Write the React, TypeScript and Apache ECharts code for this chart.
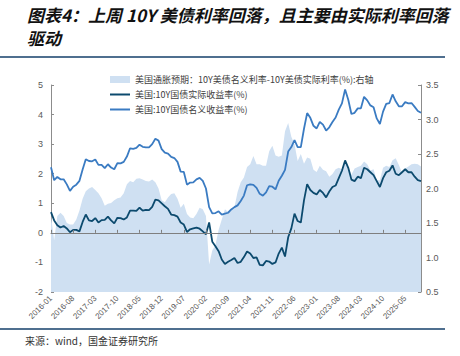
import React, { useEffect, useRef } from "react";
import * as echarts from "echarts";

// Monthly categories 2016-01 .. 2025-10
const categories: string[] = [];
for (let y = 2016; y <= 2025; y++) {
  for (let m = 1; m <= 12; m++) {
    if (y === 2025 && m > 10) break;
    categories.push(`${y}-${m < 10 ? "0" + m : m}`);
  }
}

// 美国:10Y国债名义收益率(%)
const nominal: number[] = [
  2.22, 1.78, 1.89, 1.81, 1.81, 1.64, 1.42, 1.56, 1.63, 1.76, 2.14, 2.49,
  2.43, 2.42, 2.48, 2.30, 2.30, 2.19, 2.32, 2.21, 2.15, 2.36, 2.35, 2.40,
  2.58, 2.86, 2.84, 2.87, 2.98, 2.91, 2.89, 2.89, 3.00, 3.18, 3.12, 2.83,
  2.71, 2.68, 2.57, 2.53, 2.40, 2.07, 2.06, 1.63, 1.70, 1.71, 1.81, 1.86,
  1.76, 1.50, 0.87, 0.66, 0.67, 0.73, 0.62, 0.65, 0.68, 0.79, 0.87, 0.93,
  1.08, 1.26, 1.61, 1.64, 1.62, 1.52, 1.32, 1.26, 1.37, 1.58, 1.56, 1.47,
  1.76, 1.93, 2.13, 2.75, 2.90, 3.14, 2.90, 2.90, 3.52, 4.05, 3.89, 3.62,
  3.53, 3.75, 3.66, 3.46, 3.57, 3.75, 3.90, 4.17, 4.38, 4.85, 4.50, 4.02,
  4.06, 4.21, 4.21, 4.60, 4.48, 4.31, 4.25, 3.87, 3.68, 4.10, 4.36, 4.39,
  4.68, 4.45, 4.28, 4.28, 4.42, 4.38, 4.39, 4.26, 4.12, 4.06,
];

// 美国:10Y国债实际收益率(%)
const real: number[] = [
  0.70, 0.42, 0.26, 0.18, 0.23, 0.15, 0.02, 0.10, 0.10, 0.05, 0.37, 0.62,
  0.42, 0.40, 0.50, 0.35, 0.43, 0.44, 0.55, 0.42, 0.32, 0.51, 0.50, 0.45,
  0.52, 0.75, 0.75, 0.74, 0.85, 0.75, 0.78, 0.77, 0.88, 1.12, 1.10, 1.00,
  0.90, 0.81, 0.62, 0.60, 0.55, 0.35, 0.28, 0.03, 0.12, 0.15, 0.18, 0.14,
  0.05, -0.05, 0.35, -0.30, -0.45, -0.62, -0.90, -1.05, -0.98, -0.92, -0.85, -1.02,
  -0.98, -0.82, -0.63, -0.70, -0.85, -0.83, -1.08, -1.10, -0.95, -0.97, -1.05, -1.00,
  -0.70, -0.50, -0.80, -0.15, 0.15, 0.65, 0.40, 0.35, 1.10, 1.65, 1.45, 1.35,
  1.30, 1.45, 1.35, 1.20, 1.40, 1.55, 1.60, 1.85, 2.10, 2.45, 2.20, 1.80,
  1.75, 1.90, 1.85, 2.20, 2.15, 2.05, 1.95, 1.75, 1.55, 1.85, 2.05, 2.10,
  2.28, 2.00, 1.95, 2.05, 2.15, 2.05, 2.05, 1.90, 1.78, 1.75,
];

// 美国通胀预期：10Y美债名义利率-10Y美债实际利率(%)：右轴
const breakeven: number[] = [
  1.60, 1.25, 1.60, 1.65, 1.60, 1.50, 1.48, 1.48, 1.55, 1.68, 1.85, 1.96,
  2.00, 2.02, 1.98, 1.93, 1.86, 1.75, 1.78, 1.79, 1.83, 1.86, 1.87, 1.93,
  2.06, 2.11, 2.09, 2.14, 2.15, 2.13, 2.11, 2.10, 2.13, 2.09, 2.00, 1.83,
  1.80, 1.87, 1.92, 1.93, 1.85, 1.72, 1.78, 1.63, 1.58, 1.57, 1.63, 1.72,
  1.70, 1.60, 0.90, 1.10, 1.18, 1.40, 1.55, 1.70, 1.66, 1.71, 1.73, 1.95,
  2.09, 2.16, 2.31, 2.35, 2.47, 2.35, 2.35, 2.33, 2.33, 2.54, 2.62, 2.48,
  2.46, 2.48, 2.83, 2.95, 2.75, 2.64, 2.40, 2.50, 2.36, 2.45, 2.43, 2.27,
  2.24, 2.33, 2.27, 2.25, 2.17, 2.21, 2.28, 2.30, 2.28, 2.40, 2.30, 2.20,
  2.29, 2.31, 2.33, 2.39, 2.35, 2.26, 2.28, 2.12, 2.12, 2.30, 2.33, 2.31,
  2.41, 2.44, 2.34, 2.23, 2.29, 2.32, 2.35, 2.36, 2.35, 2.32,
];

const nameBE = "美国通胀预期：10Y美债名义利率-10Y美债实际利率(%):右轴";
const nameReal = "美国:10Y国债实际收益率(%)";
const nameNom = "美国:10Y国债名义收益率(%)";

const titleLine1 = "图表4：上周 10Y 美债利率回落，且主要由实际利率回落";
const titleLine2 = "驱动";
const sourceText = "来源：wind，国金证券研究所";

export default function App() {
  const ref = useRef<HTMLDivElement>(null);
  useEffect(() => {
    if (!ref.current) return;
    const chart = echarts.init(ref.current, undefined, { renderer: "svg" });
    const axisColor = "#8c8c8c";
    const labelColor = "#595959";
    const font = "Liberation Sans, Arial, sans-serif";
    chart.setOption({
      animation: false,
      backgroundColor: "#ffffff",
      grid: { left: 51, right: 39, top: 85, bottom: 64, containLabel: false },
      legend: {
        orient: "vertical",
        left: 104,
        top: 70,
        itemWidth: 20,
        itemHeight: 7,
        itemGap: 6,
        textStyle: { fontSize: 9, color: "#404040", fontFamily: "Noto Sans CJK SC" },
        data: [
          { name: nameBE, icon: "rect" },
          { name: nameReal, itemStyle: { opacity: 0 } },
          { name: nameNom, itemStyle: { opacity: 0 } },
        ],
      },
      xAxis: [
        {
          type: "category",
          data: categories,
          boundaryGap: false,
          position: "bottom",
          axisLine: { show: false, onZero: false },
          axisTick: { show: false },
          axisLabel: {
            interval: 6,
            rotate: 45,
            fontSize: 8,
            color: labelColor,
            fontFamily: font,
            margin: 5,
          },
          splitLine: { show: false },
        },
        {
          type: "category",
          data: categories,
          boundaryGap: false,
          position: "top",
          axisLine: {
            show: true,
            onZero: true,
            onZeroAxisIndex: 0,
            lineStyle: { color: "#7f7f7f", width: 1 },
          },
          axisTick: {
            show: true,
            interval: 6,
            inside: false,
            length: 3,
            lineStyle: { color: "#7f7f7f" },
          },
          axisLabel: { show: false },
          splitLine: { show: false },
          z: 10,
        },
      ],
      yAxis: [
        {
          type: "value",
          min: -2,
          max: 5,
          interval: 1,
          position: "left",
          axisLine: { show: true, lineStyle: { color: axisColor } },
          axisTick: { show: true, inside: true, length: 3, lineStyle: { color: axisColor } },
          axisLabel: { fontSize: 9, color: labelColor, fontFamily: font, margin: 8 },
          splitLine: { show: false },
        },
        {
          type: "value",
          min: 0.5,
          max: 3.5,
          interval: 0.5,
          position: "right",
          axisLine: { show: true, lineStyle: { color: axisColor } },
          axisTick: { show: true, inside: true, length: 3, lineStyle: { color: axisColor } },
          axisLabel: {
            fontSize: 9,
            color: labelColor,
            fontFamily: font,
            margin: 5,
            formatter: (v: number) => v.toFixed(1),
          },
          splitLine: { show: false },
        },
      ],
      series: [
        {
          name: nameBE,
          type: "line",
          xAxisIndex: 0,
          yAxisIndex: 1,
          data: breakeven,
          symbol: "none",
          color: "#cfe0f2",
          lineStyle: { width: 0, color: "#cfe0f2" },
          areaStyle: { color: "#cfe0f2", opacity: 1, origin: "start" },
          z: 1,
        },
        {
          name: nameReal,
          type: "line",
          xAxisIndex: 0,
          yAxisIndex: 0,
          data: real,
          symbol: "none",
          color: "#0c4a6e",
          lineStyle: { width: 1.8, color: "#0c4a6e" },
          z: 3,
        },
        {
          name: nameNom,
          type: "line",
          xAxisIndex: 0,
          yAxisIndex: 0,
          data: nominal,
          symbol: "none",
          color: "#3a7bc2",
          lineStyle: { width: 1.8, color: "#3a7bc2" },
          z: 3,
        },
      ],
      graphic: [
        {
          type: "text",
          left: 27,
          top: 6,
          style: {
            text: titleLine1,
            fontSize: 17,
            fontWeight: "bold",
            fontStyle: "italic",
            fill: "#111",
            fontFamily: "Noto Sans CJK SC",
          },
        },
        {
          type: "text",
          left: 27,
          top: 29,
          style: {
            text: titleLine2,
            fontSize: 17,
            fontWeight: "bold",
            fontStyle: "italic",
            fill: "#111",
            fontFamily: "Noto Sans CJK SC",
          },
        },
        {
          type: "line",
          shape: { x1: 0, y1: 57, x2: 445, y2: 57 },
          style: { stroke: "#4f6f8f", lineWidth: 2 },
        },
        {
          type: "line",
          shape: { x1: 0, y1: 329, x2: 445, y2: 329 },
          style: { stroke: "#4f6f8f", lineWidth: 2 },
        },
        {
          type: "text",
          left: 25,
          top: 335,
          style: {
            text: sourceText,
            fontSize: 10,
            fill: "#333",
            fontFamily: "Noto Sans CJK SC",
          },
        },
      ],
    });
    return () => chart.dispose();
  }, []);
  return (
    <div
      ref={ref}
      style={{ position: "absolute", left: 0, top: 0, width: 460, height: 356, background: "#fff" }}
    />
  );
}
